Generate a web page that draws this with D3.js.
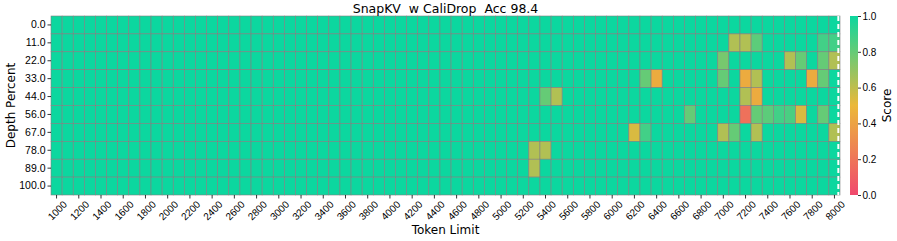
<!DOCTYPE html>
<html>
<head>
<meta charset="utf-8">
<script src="https://cdn.jsdelivr.net/npm/d3@7"></script>
<style>
  body { margin: 0; background: #fff; }
  svg { display: block; font-family: "DejaVu Sans", sans-serif; }
</style>
</head>
<body>
<svg id="chart" width="897" height="241"></svg>
<script>
// ---- data ----
const tokenLimits = d3.range(1000, 8001, 100);           // 71 columns
const depthPercents = [0.0, 11.0, 22.0, 33.0, 44.0, 56.0, 67.0, 78.0, 89.0, 100.0];
const xTickLabels = d3.range(1000, 8001, 200);
const colorbarTicks = [0.0, 0.2, 0.4, 0.6, 0.8, 1.0];
const title = "SnapKV\u00a0\u00a0w CaliDrop\u00a0\u00a0Acc 98.4";
// non-perfect cells: [depth, tokenLimit, score]; every other cell scores 1.0
const lowScores = [
  [11.0, 7100, 0.63], [11.0, 7200, 0.63], [11.0, 7300, 0.82], [11.0, 7900, 0.88], [11.0, 8000, 0.88],
  [22.0, 7000, 0.76], [22.0, 7600, 0.63], [22.0, 7700, 0.8], [22.0, 7900, 0.8], [22.0, 8000, 0.63],
  [33.0, 6300, 0.8], [33.0, 6400, 0.44], [33.0, 7000, 0.8], [33.0, 7200, 0.44], [33.0, 7300, 0.63],
  [33.0, 7800, 0.44], [33.0, 7900, 0.8],
  [44.0, 5400, 0.8], [44.0, 5500, 0.63], [44.0, 7200, 0.63], [44.0, 7300, 0.44],
  [56.0, 6700, 0.8], [56.0, 7200, 0.18], [56.0, 7300, 0.8], [56.0, 7400, 0.82], [56.0, 7500, 0.88],
  [56.0, 7600, 0.86], [56.0, 7700, 0.54], [56.0, 7900, 0.8],
  [67.0, 6200, 0.54], [67.0, 6300, 0.88], [67.0, 7000, 0.63], [67.0, 7100, 0.8], [67.0, 7300, 0.63],
  [67.0, 8000, 0.63],
  [78.0, 5300, 0.63], [78.0, 5400, 0.63],
  [89.0, 5300, 0.63]
];
const markerToken = 8035;   // dashed white reference line position (token units)

// ---- layout ----
const svg = d3.select("#chart");
const L = 51, T = 16, W = 789, H = 179;
const cbX = 850, cbW = 8;

const x = d3.scaleBand().domain(tokenLimits).range([L, L + W]).padding(0);
const y = d3.scaleBand().domain(depthPercents).range([T, T + H]).padding(0);
const xLin = d3.scaleLinear()
  .domain([tokenLimits[0] - 50, tokenLimits[tokenLimits.length - 1] + 50])
  .range([L, L + W]);
const color = d3.scaleLinear().domain([0, 0.5, 1])
  .range(["#F0496E", "#EBB839", "#0CD79F"]).interpolate(d3.interpolateRgb).clamp(true);

const lookup = new Map(lowScores.map(d => [d[0] + "|" + d[1], d[2]]));
const cells = [];
depthPercents.forEach(dp => tokenLimits.forEach(tl => {
  const k = dp + "|" + tl;
  cells.push({ dp, tl, v: lookup.has(k) ? lookup.get(k) : 1.0 });
}));

svg.append("g").selectAll("rect").data(cells).join("rect")
  .attr("x", d => x(d.tl)).attr("y", d => y(d.dp))
  .attr("width", x.bandwidth()).attr("height", y.bandwidth())
  .attr("fill", d => color(d.v))
  .attr("stroke", "#808080").attr("stroke-width", 0.6);

// dashed reference line
svg.append("line")
  .attr("x1", xLin(markerToken)).attr("x2", xLin(markerToken))
  .attr("y1", T).attr("y2", T + H)
  .attr("stroke", "#fff").attr("stroke-width", 2).attr("stroke-dasharray", "5,3");

// x axis
const xAxis = d3.axisBottom(x).tickValues(xTickLabels).tickSize(3.5).tickPadding(2);
const gx = svg.append("g").attr("transform", `translate(0,${T + H})`).call(xAxis);
gx.select(".domain").remove();
gx.selectAll(".tick line").attr("stroke", "#000").attr("stroke-width", 0.8);
gx.selectAll(".tick text")
  .attr("font-size", 10).attr("fill", "#000")
  .attr("text-anchor", "end")
  .attr("transform", "translate(3,2) rotate(-45)")
  .attr("dy", "0.6em");

// y axis
const yAxis = d3.axisLeft(y).tickFormat(d => d.toFixed(1)).tickSize(3.5).tickPadding(2);
const gy = svg.append("g").attr("transform", `translate(${L},0)`).call(yAxis);
gy.select(".domain").remove();
gy.selectAll(".tick line").attr("stroke", "#000").attr("stroke-width", 0.8);
gy.selectAll(".tick text").attr("font-size", 10.5).attr("fill", "#000");

// labels
svg.append("text").attr("x", L + W / 2).attr("y", 13)
  .attr("text-anchor", "middle").attr("font-size", 12.5).text(title);
svg.append("text").attr("x", L + W / 2).attr("y", 234)
  .attr("text-anchor", "middle").attr("font-size", 12).text("Token Limit");
svg.append("text").attr("transform", `translate(15,${T + H / 2}) rotate(-90)`)
  .attr("text-anchor", "middle").attr("font-size", 12).text("Depth Percent");

// colorbar
const defs = svg.append("defs");
const grad = defs.append("linearGradient").attr("id", "cbgrad")
  .attr("x1", 0).attr("y1", 1).attr("x2", 0).attr("y2", 0);
d3.range(0, 1.0001, 0.05).forEach(t => {
  grad.append("stop").attr("offset", t).attr("stop-color", color(t));
});
svg.append("rect").attr("x", cbX).attr("y", T).attr("width", cbW).attr("height", H)
  .attr("fill", "url(#cbgrad)");
const cbScale = d3.scaleLinear().domain([0, 1]).range([T + H, T]);
const gc = svg.append("g").attr("transform", `translate(${cbX + cbW},0)`)
  .call(d3.axisRight(cbScale).tickValues(colorbarTicks).tickFormat(d3.format(".1f")).tickSize(3).tickPadding(1.5));
gc.select(".domain").remove();
gc.selectAll(".tick line").attr("stroke", "#000").attr("stroke-width", 0.8);
gc.selectAll(".tick text").attr("font-size", 10).attr("fill", "#000");
svg.append("text").attr("transform", `translate(891,${T + H / 2}) rotate(-90)`)
  .attr("text-anchor", "middle").attr("font-size", 12).text("Score");
</script>
</body>
</html>
